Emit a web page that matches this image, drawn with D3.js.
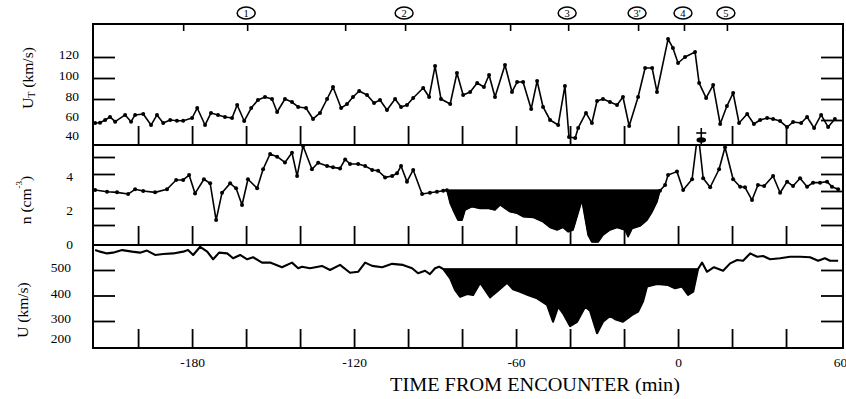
<!DOCTYPE html>
<html><head><meta charset="utf-8">
<script src="https://cdn.jsdelivr.net/npm/d3@7"></script>
<style>
body{margin:0;background:#fff}
svg{display:block;background:#fff}
text{font-family:"Liberation Serif","Times New Roman",serif;fill:#000}
</style>
</head><body>
<svg id="c" width="846" height="399"></svg>
<script>
// ---------------- DATA ----------------
const timeDomain = [-216.7, 61.1];
const xTickValues = [-200,-180,-160,-140,-120,-100,-80,-60,-40,-20,0,20,40];
const xTickLabels = [-180,-120,-60,0,60];
const xTitle = "TIME FROM ENCOUNTER (min)";

const markerTimes  = [-183.3,-159.6,-123.3,-101.1,-62.2,-40.7,-14.8,2.2,18.1];
const markerLabels = ["","1","","2","","3","3'","4","5"];

// Transverse velocity U_T (km/s): [time (min), value]
const seriesUT = [[-215.9,57.1],[-214.1,57.4],[-212.2,60],[-210.4,62.9],[-208.5,58.4],[-204.8,64.8],[-202.6,58.4],[-201.1,64.8],[-198.1,65.7],[-195.2,55.2],[-193,64.8],[-190.7,57.1],[-188.1,60],[-185.6,59.3],[-183.3,59.3],[-180,61.9],[-178.1,71.4],[-175.2,55.2],[-173,66.7],[-170.4,64.8],[-167.8,62.9],[-165.2,61.9],[-163.3,74.3],[-160.7,59],[-158.1,71.4],[-155.6,79],[-153,81.9],[-150.4,80],[-148.5,67.6],[-145.6,80],[-143,77.1],[-140.7,72.4],[-137.8,71.4],[-135.2,61],[-132.6,66.7],[-130,80],[-127.8,91.4],[-124.8,71.4],[-122.6,75.2],[-120.4,81.9],[-118.1,87.6],[-115.2,83.8],[-112.6,76.2],[-110.4,79],[-107.8,69.5],[-104.8,80],[-102.6,72.4],[-100.4,74.3],[-98.1,81],[-94.4,90.5],[-92.2,81.9],[-90,111.4],[-87.8,80],[-84.4,75.2],[-81.9,104.8],[-79.6,83.8],[-77,86.7],[-74.4,95.2],[-71.9,91.4],[-70,102.9],[-67.8,81.9],[-64.1,112.4],[-61.5,86.7],[-59.6,96.2],[-57.4,96.2],[-54.4,70.5],[-52.2,97.1],[-50,72.4],[-47.4,60],[-44.4,55.2],[-41.9,92.4],[-40.4,43.8],[-38.1,42.9],[-37,52.4],[-34.1,66.7],[-31.9,57.1],[-30,78.1],[-27.8,80],[-25.2,77.1],[-22.6,74.3],[-20.4,81.9],[-18.1,54.3],[-14.8,81.9],[-12.2,109.5],[-9.6,109.5],[-7.8,86.7],[-3.7,137.1],[-1.9,128.6],[0,114.3],[2.6,120],[6.3,124.8],[7.8,95.2],[10.4,81],[13,93.3],[15.6,56.2],[18.1,73.3],[20.4,85.7],[22.6,57.1],[25.6,65.7],[28.1,56.2],[30.4,60],[33,61.9],[35.2,61],[37.8,59],[40.4,53.3],[42.6,58.1],[45.6,57.1],[47.8,62.9],[50.4,52.4],[53,64.8],[55.6,53.3],[58.1,61]];

// Density n (cm^-3): [time (min), value]
const seriesN = [[-215.9,3.06],[-211.5,2.96],[-207.8,2.92],[-203.7,2.82],[-201.1,3.1],[-198.1,3.0],[-193.7,2.92],[-189.3,3.1],[-185.9,3.65],[-183.3,3.65],[-181.1,3.94],[-178.9,2.86],[-175.6,3.69],[-173.3,3.45],[-171.1,1.29],[-168.9,2.9],[-165.9,3.45],[-163.7,3.16],[-161.5,2.18],[-159.3,3.69],[-155.9,3.16],[-153.7,4.28],[-151.1,5.18],[-148.5,5.02],[-145.6,4.68],[-143,5.25],[-141.1,3.88],[-138.9,5.65],[-135.6,4.28],[-133.3,4.66],[-130,4.47],[-127.8,4.39],[-125.2,4.33],[-123.3,4.86],[-121.5,4.59],[-118.5,4.59],[-115.9,4.47],[-113.3,4.24],[-111.1,4.19],[-108.5,3.8],[-105.9,3.88],[-104.1,4.04],[-102.6,4.47],[-100.4,3.55],[-98.1,4.24],[-94.8,2.82],[-91.9,2.9],[-89.3,2.96],[-87,3.02],[-85.6,3.05],[-84.4,2.28],[-83.3,1.88],[-81.5,1.29],[-80,1.29],[-78.9,1.88],[-76.3,2.08],[-73.3,1.98],[-70.4,1.98],[-67.8,1.88],[-65.9,2.18],[-64.1,1.98],[-62.2,1.78],[-59.6,1.69],[-57.4,1.49],[-53.7,1.45],[-50,1.19],[-47.4,0.86],[-44.8,0.71],[-42.6,0.86],[-40.7,0.6],[-38.9,0.71],[-35.6,2.47],[-33.3,0.41],[-31.9,0.0],[-29.6,0.0],[-27.8,0.41],[-25.2,0.71],[-22.6,0.86],[-19.6,0.71],[-18.5,0.31],[-17,0.8],[-14.1,0.94],[-11.5,1.29],[-9.6,1.78],[-7.8,2.37],[-6.7,3.02],[-4.8,3.35],[-3.7,3.94],[-0.4,4.14],[1.9,3.06],[5.2,3.69],[7.4,6.5],[9.3,3.75],[11.9,3.22],[15.2,4.28],[17.4,5.57],[20.4,3.69],[23,3.25],[24.8,3.22],[27.4,2.47],[29.6,3.35],[31.9,3.29],[35.2,3.88],[37.8,2.9],[40.4,3.55],[42.6,3.29],[45.2,3.75],[47.8,3.25],[50,3.49],[52.6,3.49],[55.2,3.55],[57,3.25],[59.3,3.1]];

// Bulk speed U (km/s): [time (min), value]
const seriesU = [[-215.9,578],[-214.1,572],[-211.5,565],[-209.3,568],[-205.9,578],[-202.2,572],[-199.3,568],[-196.7,576],[-193.7,559],[-190.7,563],[-187,565],[-183.3,572],[-181.5,578],[-179.6,559],[-177,591],[-174.4,572],[-172.2,542],[-170,568],[-167,565],[-164.8,546],[-162.2,559],[-159.6,542],[-157.4,550],[-154.1,529],[-151.1,529],[-146.7,511],[-143,529],[-140.7,507],[-139.3,513],[-136.3,507],[-131.9,516],[-128.9,500],[-125.2,520],[-121.5,489],[-118.5,493],[-115.9,529],[-113.3,516],[-109.6,511],[-105.9,524],[-101.9,520],[-98.5,507],[-96.3,487],[-93.7,497],[-91.9,484],[-90,507],[-88.5,513],[-87,504],[-84.4,467],[-82.6,422],[-80.7,395],[-78.1,406],[-75.9,402],[-73.3,450],[-71.5,422],[-69.6,393],[-66.7,419],[-63.3,450],[-61.1,424],[-58.5,415],[-55.6,402],[-52.2,389],[-48.5,363],[-46.3,297],[-44.4,356],[-42.6,330],[-40,280],[-37.4,297],[-34.4,356],[-32.6,340],[-30,252],[-27.8,297],[-25.2,320],[-23.3,307],[-20.4,297],[-17,324],[-14.8,337],[-13,376],[-11.5,435],[-7.8,445],[-3.7,441],[-1.1,428],[1.5,435],[3.7,402],[5.6,415],[7.4,504],[8.9,529],[10.7,493],[13.3,511],[16.7,497],[19.3,526],[21.9,539],[24.1,536],[26.7,565],[29.3,552],[31.5,555],[34.1,542],[37.8,546],[41.5,552],[45.2,552],[48.9,550],[51.9,536],[54.4,546],[56.3,536],[59.3,536]];

const topTickLabels = [40,60,80,100,120];
const midTickLabels = [0,2,4];
const botTickLabels = [200,300,400,500];

// ---------------- LAYOUT ----------------
const L = 93, R = 843;
const svg = d3.select("#c");
const x = d3.scaleLinear().domain(timeDomain).range([L, R]);

const panels = [
  {id:"ut", top:24, bottom:145, domain:[36.19,151.43], data:seriesUT, dots:true, lw:1.6,
   labels:topTickLabels, leftMarks:[80,100,120], rightMarks:[60,80,100,120],
   labelX:79, labelDy:-3, labelMax:135, fill:null},
  {id:"n", top:145, bottom:245, domain:[-0.176,5.706], data:seriesN, dots:true, lw:1.6,
   labels:midTickLabels, leftMarks:[1,2,4,5], rightMarks:[1,2,3,4,5],
   labelX:73, labelDy:2, labelMax:244, fill:{base:3.05, range:[-85.6,-6.7]}},
  {id:"u", top:245, bottom:348, domain:[194.1,598.0], data:seriesU, dots:false, lw:2.1,
   labels:botTickLabels, leftMarks:[300,400,500], rightMarks:[300,400,500],
   labelX:71, labelDy:-2, labelMax:338, fill:{base:504, range:[-87,7.4]}}
];

const defs = svg.append("defs");

panels.forEach(p => {
  const y = d3.scaleLinear().domain(p.domain).range([p.bottom, p.top]);
  p.y = y;
  defs.append("clipPath").attr("id","clip-"+p.id)
    .append("rect").attr("x",L).attr("y",p.top).attr("width",R-L).attr("height",p.bottom-p.top);
  const g = svg.append("g");
  const gc = g.append("g").attr("clip-path","url(#clip-"+p.id+")");

  if (p.fill) {
    const fd = p.data.filter(d => d[0] >= p.fill.range[0] && d[0] <= p.fill.range[1]);
    const area = d3.area()
      .x(d => x(d[0]))
      .y0(y(p.fill.base))
      .y1(d => y(Math.min(d[1], p.fill.base)));
    gc.append("path").datum(fd).attr("d", area).attr("fill","#000").attr("stroke","#000").attr("stroke-width",0.8);
    gc.append("line").attr("x1",x(p.fill.range[0])).attr("x2",x(p.fill.range[1]))
      .attr("y1",y(p.fill.base)).attr("y2",y(p.fill.base)).attr("stroke","#000").attr("stroke-width",1.5);
  }

  const line = d3.line().x(d => x(d[0])).y(d => y(d[1]));
  gc.append("path").datum(p.data).attr("d", line)
    .attr("fill","none").attr("stroke","#000").attr("stroke-width",p.lw).attr("stroke-linejoin","round");

  if (p.dots) {
    const dd = p.fill ? p.data.filter(d => !(d[0] > p.fill.range[0] && d[0] < p.fill.range[1])) : p.data;
    gc.selectAll("circle").data(dd).join("circle")
      .attr("cx", d => x(d[0])).attr("cy", d => y(d[1])).attr("r", 2).attr("fill","#000");
  }

  // inner ticks on the bottom edge (every 20 min)
  g.append("g").attr("transform",`translate(0,${p.bottom})`)
    .call(d3.axisTop(x).tickValues(xTickValues).tickSize(19).tickFormat(""))
    .call(s => s.select(".domain").remove())
    .call(s => s.selectAll("line").attr("stroke","#000").attr("stroke-width",1.8));

  // left / right inner y ticks
  g.append("g").attr("transform",`translate(${L},0)`)
    .call(d3.axisRight(y).tickValues(p.leftMarks).tickSize(22).tickFormat(""))
    .call(s => s.select(".domain").remove())
    .call(s => s.selectAll("line").attr("stroke","#000").attr("stroke-width",1.8));
  g.append("g").attr("transform",`translate(${R},0)`)
    .call(d3.axisLeft(y).tickValues(p.rightMarks).tickSize(22).tickFormat(""))
    .call(s => s.select(".domain").remove())
    .call(s => s.selectAll("line").attr("stroke","#000").attr("stroke-width",1.8));

  // y tick labels
  g.selectAll("text.yl").data(p.labels).join("text").attr("class","yl")
    .attr("x", p.labelX)
    .attr("y", v => Math.min(y(v) + p.labelDy, p.labelMax))
    .attr("text-anchor","end").attr("dominant-baseline","central")
    .attr("font-size",13.5).text(v => v);

  // frame
  g.append("rect").attr("x",L).attr("y",p.top).attr("width",R-L).attr("height",p.bottom-p.top)
    .attr("fill","none").attr("stroke","#000").attr("stroke-width",2);
});

// off-scale marker for density spike
{
  const p = panels[1];
  const mx = x(8.6), my = p.top;
  const gm = svg.append("g").attr("stroke","#000").attr("stroke-width",1.6);
  gm.append("line").attr("x1",mx).attr("x2",mx).attr("y1",my-17).attr("y2",my);
  gm.append("line").attr("x1",mx-5).attr("x2",mx+5).attr("y1",my-12).attr("y2",my-12);
  gm.append("ellipse").attr("cx",mx).attr("cy",my-5).attr("rx",4).attr("ry",2).attr("fill","#000");
}

// top event markers
const gTop = svg.append("g");
gTop.append("g").attr("transform",`translate(0,${panels[0].top})`)
  .call(d3.axisBottom(x).tickValues(markerTimes).tickSize(7).tickFormat(""))
  .call(s => s.select(".domain").remove())
  .call(s => s.selectAll("line").attr("stroke","#000").attr("stroke-width",1.6));
const mk = gTop.selectAll("g.mk").data(markerTimes.map((t,i)=>({t, l:markerLabels[i]})).filter(d=>d.l!==""))
  .join("g").attr("class","mk").attr("transform", d => `translate(${x(d.t)-1},13)`);
mk.append("ellipse").attr("rx",9).attr("ry",6).attr("fill","#fff").attr("stroke","#000").attr("stroke-width",1.5);
mk.append("text").attr("text-anchor","middle").attr("dominant-baseline","central")
  .attr("font-size",10.5).attr("y",0.5).text(d => d.l);

// x tick labels
svg.append("g").attr("transform",`translate(0,${panels[2].bottom})`)
  .call(d3.axisBottom(x).tickValues(xTickLabels).tickSize(0).tickPadding(9).tickFormat(d => d < 0 ? "-" + Math.abs(d) : d))
  .call(s => s.select(".domain").remove())
  .call(s => s.selectAll("text").attr("font-size",13.5).attr("font-family","Liberation Serif, serif").attr("fill","#000"));

// x title
svg.append("text").attr("x",535).attr("y",385).attr("text-anchor","middle").attr("dominant-baseline","central")
  .attr("font-size",18).attr("textLength",290).attr("lengthAdjust","spacingAndGlyphs").text(xTitle);

// y axis titles
function yTitle(cx, cy, build){
  const t = svg.append("text").attr("transform",`translate(${cx},${cy}) rotate(-90)`)
    .attr("text-anchor","middle").attr("dominant-baseline","central").attr("font-size",15.5);
  build(t);
}
yTitle(27, 78, t => { t.append("tspan").text("U");
  t.append("tspan").attr("font-size",10).attr("dy",4).text("T");
  t.append("tspan").attr("dy",-4).text(" (km/s)"); });
yTitle(25, 200, t => { t.append("tspan").text("n (cm");
  t.append("tspan").attr("font-size",9).attr("dy",-6).text("-3");
  t.append("tspan").attr("dy",6).text(")"); });
yTitle(22, 310, t => { t.text("U (km/s)"); });
</script>
</body></html>
